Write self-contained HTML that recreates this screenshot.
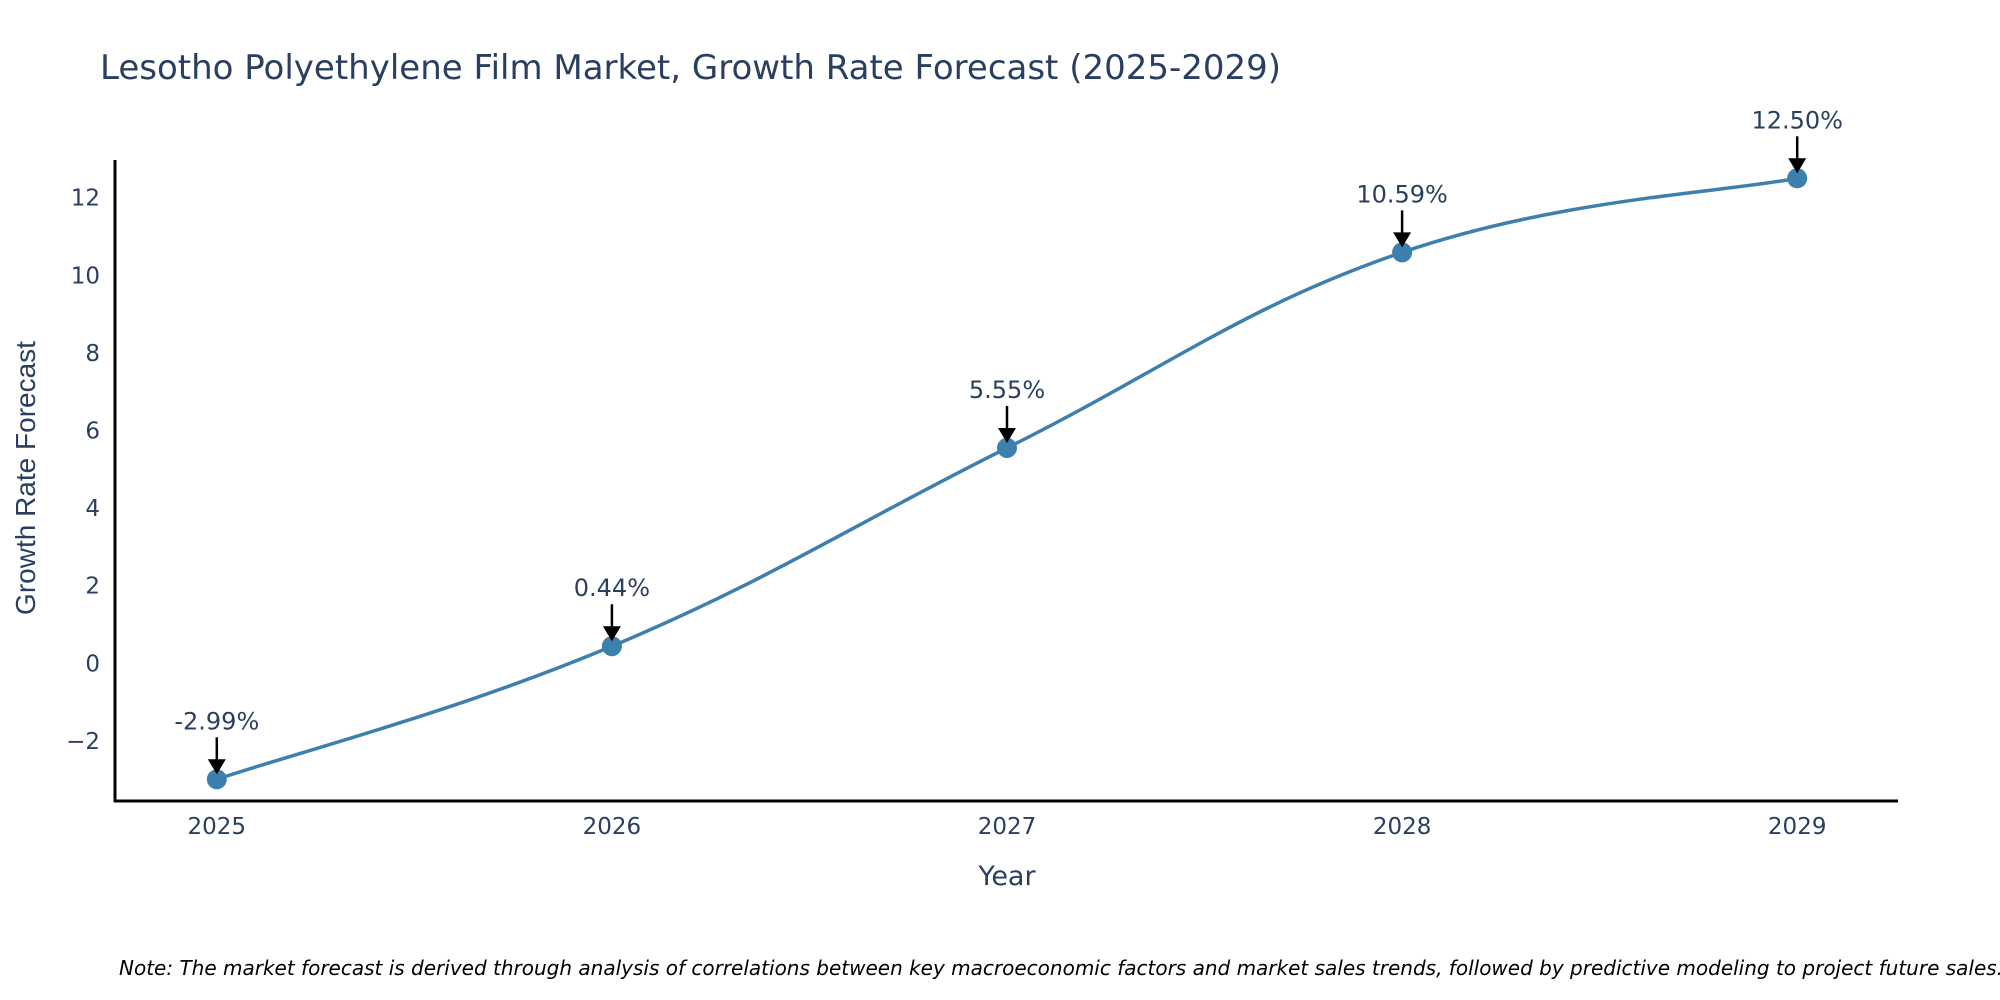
<!DOCTYPE html>
<html><head><meta charset="utf-8"><style>
body{margin:0;background:#fff}
svg{display:block;font-family:"DejaVu Sans","Liberation Sans",sans-serif}
</style></head><body>
<svg id="chart" width="2000" height="1000" viewBox="0 0 2000 1000" xmlns="http://www.w3.org/2000/svg">
<text x="100" y="79" font-size="34" fill="#2a3f5f">Lesotho Polyethylene Film Market, Growth Rate Forecast (2025-2029)</text>
<g id="yticks"></g>
<g id="xticks"></g>
<line x1="115" y1="160" x2="115" y2="802" stroke="#000" stroke-width="3"/>
<line x1="114" y1="801" x2="1898" y2="801" stroke="#000" stroke-width="3"/>
<path id="line" fill="none" stroke="#3d7fad" stroke-width="3.5"/>
<g id="points"></g>
<g id="annots"></g>
<text x="1007" y="885" font-size="27" fill="#2a3f5f" text-anchor="middle">Year</text>
<text transform="translate(35,478) rotate(-90)" font-size="28" fill="#2a3f5f" text-anchor="middle" font-family="Liberation Sans, sans-serif">Growth Rate Forecast</text>
<text x="119" y="975" font-size="20" font-style="italic" fill="#000">Note: The market forecast is derived through analysis of correlations between key macroeconomic factors and market sales trends, followed by predictive modeling to project future sales.</text>
</svg>
<script>
const years = [2025, 2026, 2027, 2028, 2029];
const growth = [-2.99, 0.44, 5.55, 10.59, 12.50];
const labels = ["-2.99%", "0.44%", "5.55%", "10.59%", "12.50%"];
const yTicks = [-2, 0, 2, 4, 6, 8, 10, 12];
const NS = "http://www.w3.org/2000/svg";
function xs(v){return 216.8 + (v-2025)*395.1;}
function ys(v){return 663.3 - v*38.8;}
function mk(tag, attrs, parent){const e=document.createElementNS(NS,tag);for(const k in attrs)e.setAttribute(k,attrs[k]);parent.appendChild(e);return e;}
const yt=document.getElementById('yticks');
yTicks.forEach(t=>{
  const e=mk('text',{x:100,y:ys(t)+8,'font-size':23,fill:'#2a3f5f','text-anchor':'end'},yt);
  
  
  e.textContent=t<0?'\u2212'+Math.abs(t):String(t);
});
const xt=document.getElementById('xticks');
years.forEach(y=>{
  const e=mk('text',{x:xs(y),y:834,'font-size':23,fill:'#2a3f5f','text-anchor':'middle'},xt);
  
  
  e.textContent=String(y);
});
const P=years.map((y,i)=>[xs(y),ys(growth[i])]);
let d='M'+P[0][0]+','+P[0][1];
for(let i=0;i<P.length-1;i++){
  const p0=P[Math.max(i-1,0)],p1=P[i],p2=P[i+1],p3=P[Math.min(i+2,P.length-1)];
  const t=0.2;
  const c1=[p1[0]+(p2[0]-p0[0])*t,p1[1]+(p2[1]-p0[1])*t];
  const c2=[p2[0]-(p3[0]-p1[0])*t,p2[1]-(p3[1]-p1[1])*t];
  d+=' C'+c1[0]+','+c1[1]+' '+c2[0]+','+c2[1]+' '+p2[0]+','+p2[1];
}
document.getElementById('line').setAttribute('d',d);
const pts=document.getElementById('points'),an=document.getElementById('annots');
P.forEach((p,i)=>{
  const c=mk('circle',{cx:p[0],cy:p[1],r:10,fill:'#3d7fad'},pts);
  
  
  const l=mk('line',{x1:p[0],y1:p[1]-42,x2:p[0],y2:p[1]-14,stroke:'#000','stroke-width':2.5},an);
  
  
  const h=mk('path',{d:`M${p[0]-9},${p[1]-20} L${p[0]+9},${p[1]-20} L${p[0]},${p[1]-5} Z`,fill:'#000'},an);
  
  
  const t=mk('text',{x:p[0],y:p[1]-50,'font-size':24,fill:'#2a3f5f','text-anchor':'middle'},an);
  
  
  t.textContent=labels[i];
});
</script>
</body></html>
